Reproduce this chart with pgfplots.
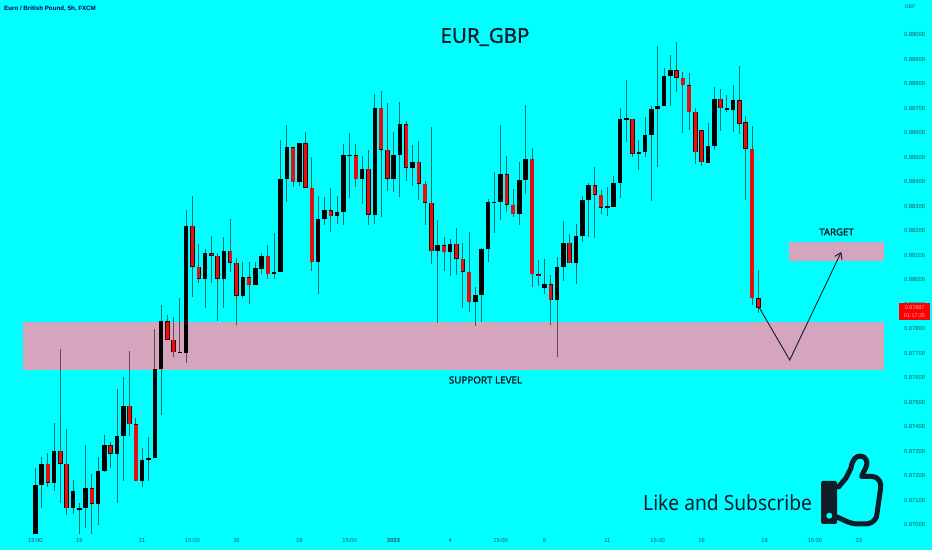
\documentclass[border=0pt]{standalone}
\usepackage{pgfplots}
\pgfplotsset{compat=1.18}
\usepackage{pgfplotstable}
\usepackage{fontspec}
\setmainfont{Liberation Sans}
\newfontfamily\titlef[FakeBold=1.0]{Noto Sans}
\newfontfamily\plainf[FakeStretch=0.915]{Noto Sans}
\newfontfamily\boldf[FakeBold=1.6]{Noto Sans}
\usetikzlibrary{arrows.meta}
\definecolor{bgc}{HTML}{00FFFF}
\definecolor{zone}{HTML}{D4A5BD}
\definecolor{redc}{HTML}{E4100F}
\definecolor{axt}{HTML}{1F5459}
\definecolor{ink}{HTML}{101C28}
\pgfplotstableread{
i top bot hi lo
0 0.87163 0.86963 0.87231 0.86963
1 0.87249 0.87163 0.87279 0.87068
3 0.87303 0.87173 0.87415 0.87140
6 0.87140 0.87068 0.87184 0.87043
7 0.87068 0.87060 0.87091 0.86962
8 0.87150 0.87068 0.87326 0.86986
10 0.87219 0.87086 0.87276 0.87000
11 0.87326 0.87219 0.87367 0.87218
13 0.87363 0.87290 0.87554 0.87088
14 0.87487 0.87363 0.87602 0.87181
17 0.87265 0.87178 0.87313 0.87154
18 0.87275 0.87265 0.87360 0.87181
19 0.87635 0.87275 0.87798 0.87275
20 0.87831 0.87635 0.87896 0.87449
23 0.87706 0.87700 0.87926 0.87700
24 0.88220 0.87700 0.88285 0.87660
27 0.88108 0.88005 0.88125 0.87884
30 0.88119 0.88005 0.88176 0.87884
33 0.88011 0.87936 0.88075 0.87925
35 0.88047 0.87978 0.88075 0.87978
36 0.88098 0.88046 0.88109 0.88024
38 0.88034 0.88024 0.88190 0.88005
39 0.88413 0.88033 0.88571 0.88033
40 0.88542 0.88412 0.88632 0.88319
42 0.88557 0.88398 0.88557 0.88383
45 0.88250 0.88072 0.88344 0.87941
46 0.88285 0.88250 0.88340 0.88222
48 0.88275 0.88260 0.88343 0.88228
49 0.88509 0.88275 0.88553 0.88222
50 0.88509 0.88506 0.88598 0.88333
52 0.88453 0.88411 0.88506 0.88310
54 0.88702 0.88265 0.88759 0.88228
57 0.88510 0.88413 0.88605 0.88358
58 0.88636 0.88510 0.88724 0.88340
60 0.88481 0.88458 0.88551 0.88385
64 0.88143 0.88117 0.88245 0.87823
66 0.88148 0.88113 0.88166 0.88014
70 0.87937 0.87909 0.87973 0.87812
71 0.88125 0.87937 0.88129 0.87827
72 0.88318 0.88125 0.88329 0.88071
73 0.88318 0.88315 0.88442 0.88190
74 0.88431 0.88318 0.88632 0.88245
77 0.88408 0.88267 0.88483 0.88224
78 0.88495 0.88408 0.88714 0.88351
81 0.87982 0.87965 0.88084 0.87943
83 0.88052 0.87916 0.88092 0.87687
84 0.88152 0.88052 0.88239 0.87996
86 0.88181 0.88067 0.88228 0.87984
87 0.88326 0.88181 0.88344 0.88156
88 0.88386 0.88326 0.88397 0.88174
91 0.88300 0.88295 0.88381 0.88261
92 0.88397 0.88298 0.88422 0.88298
93 0.88655 0.88397 0.88700 0.88336
94 0.88659 0.88654 0.88816 0.88564
96 0.88522 0.88514 0.88571 0.88448
97 0.88590 0.88520 0.88663 0.88503
98 0.88699 0.88590 0.88710 0.88322
99 0.88710 0.88699 0.88954 0.88459
100 0.88832 0.88710 0.88863 0.88710
101 0.88856 0.88833 0.88918 0.88710
107 0.88548 0.88478 0.88639 0.88478
108 0.88739 0.88548 0.88788 0.88530
110 0.88700 0.88693 0.88754 0.88684
111 0.88733 0.88693 0.88795 0.88602
}\blackc
\pgfplotstableread{
i top bot hi lo
2 0.87249 0.87173 0.87292 0.87154
4 0.87303 0.87249 0.87717 0.87088
5 0.87249 0.87068 0.87392 0.87041
9 0.87150 0.87086 0.87207 0.86962
12 0.87326 0.87290 0.87337 0.87231
15 0.87487 0.87411 0.87710 0.87363
16 0.87411 0.87178 0.87435 0.87178
21 0.87831 0.87755 0.87858 0.87755
22 0.87755 0.87704 0.87850 0.87684
25 0.88220 0.88054 0.88342 0.87932
26 0.88054 0.88005 0.88145 0.87989
28 0.88108 0.88099 0.88179 0.87986
29 0.88099 0.88005 0.88108 0.87834
31 0.88119 0.88070 0.88247 0.88034
32 0.88070 0.87936 0.88088 0.87815
34 0.88011 0.87978 0.88075 0.87902
37 0.88098 0.88024 0.88141 0.88005
41 0.88542 0.88398 0.88542 0.88381
43 0.88557 0.88376 0.88605 0.88376
44 0.88376 0.88072 0.88500 0.88038
47 0.88285 0.88260 0.88374 0.88197
51 0.88509 0.88411 0.88555 0.88381
53 0.88453 0.88265 0.88530 0.88222
55 0.88702 0.88532 0.88771 0.88256
56 0.88532 0.88413 0.88721 0.88364
59 0.88636 0.88458 0.88647 0.88404
61 0.88481 0.88393 0.88567 0.88324
62 0.88393 0.88315 0.88404 0.88222
63 0.88315 0.88117 0.88624 0.88065
65 0.88141 0.88113 0.88177 0.88038
67 0.88148 0.88086 0.88211 0.88020
68 0.88086 0.88034 0.88150 0.87884
69 0.88034 0.87909 0.88194 0.87867
75 0.88431 0.88306 0.88506 0.88279
76 0.88306 0.88267 0.88371 0.88256
79 0.88495 0.88024 0.88537 0.87970
80 0.88024 0.88014 0.88080 0.87977
82 0.87982 0.87916 0.88020 0.87816
85 0.88152 0.88067 0.88188 0.88067
89 0.88386 0.88347 0.88462 0.88170
90 0.88347 0.88294 0.88367 0.88269
95 0.88658 0.88514 0.88658 0.88503
102 0.88856 0.88825 0.88969 0.88765
103 0.88825 0.88794 0.88850 0.88598
104 0.88794 0.88685 0.88846 0.88612
105 0.88685 0.88520 0.88700 0.88473
106 0.88610 0.88480 0.88610 0.88466
109 0.88739 0.88700 0.88780 0.88608
112 0.88733 0.88638 0.88873 0.88595
113 0.88644 0.88535 0.88669 0.88326
114 0.88535 0.87926 0.88629 0.87898
115 0.87926 0.87887 0.88041 0.87864
}\redc
\pgfplotsset{
 wick/.style={no marks, draw=none, forget plot,
  error bars/.cd, y dir=both, y explicit, error mark=none,
  error bar style={line width=0.9pt, draw=black, opacity=0.55}},
 body/.style 2 args={no marks, draw=none, forget plot,
  error bars/.cd, y dir=plus, y explicit, error mark=none,
  error bar style={line width=#2, draw=#1, line cap=butt}},
}
\begin{document}
\begin{tikzpicture}
\begin{axis}[
 at={(0,0)}, anchor=south west,
 scale only axis, width=932pt, height=550pt,
 xmin=-5.615, xmax=142.63, ymin=0.86898, ymax=0.89142,
 axis background/.style={fill=bgc},
 axis line style={draw=none},
 tick style={draw=none},
 major tick length=0pt,
 clip=true,
 ytick={0.870,0.871,0.872,0.873,0.874,0.875,0.876,0.877,0.878,0.879,0.880,0.881,0.882,0.883,0.884,0.885,0.886,0.887,0.888,0.889,0.890},
 ytick pos=right, yticklabel pos=right,
 scaled y ticks=false,
 y tick label style={/pgf/number format/.cd, fixed, fixed zerofill, precision=5, assume math mode=true, /tikz/.cd, font=\fontsize{5.8}{6}\selectfont, text=axt, anchor=center, xshift=-17.5pt},
 xtick={0,7,17,25,32,42,50,57,66,74,81,91,99,106,116,124,131},
 xticklabels={15:00,19,21,15:00,26,28,15:00,\textbf{2023},4,15:00,9,11,15:00,16,18,15:00,23},
 x tick label style={font=\fontsize{5.8}{6}\selectfont, text=axt, anchor=base, yshift=7pt},
]
% zones
\addplot[fill=zone, draw=none, forget plot] coordinates {(-1.96,0.87632) (134.99,0.87632) (134.99,0.87828) (-1.96,0.87828)} -- cycle;
\addplot[fill=zone, draw=none, forget plot] coordinates {(119.87,0.88077) (134.99,0.88077) (134.99,0.88155) (119.87,0.88155)} -- cycle;
% wicks
\addplot[wick] table[x=i, y=top, y error plus expr=\thisrow{hi}-\thisrow{top}, y error minus expr=\thisrow{top}-\thisrow{lo}] {\blackc};
\addplot[wick] table[x=i, y=top, y error plus expr=\thisrow{hi}-\thisrow{top}, y error minus expr=\thisrow{top}-\thisrow{lo}] {\redc};
% bodies
\addplot[body={black}{4.5pt}] table[x=i, y=bot, y error plus expr=\thisrow{top}-\thisrow{bot}] {\blackc};
\addplot[body={black!75!red}{4.5pt}] table[x=i, y=bot, y error plus expr=\thisrow{top}-\thisrow{bot}] {\redc};
\addplot[body={redc}{3.3pt}] table[x=i, y expr=\thisrow{bot}+0.00002, y error plus expr=\thisrow{top}-\thisrow{bot}-0.00004] {\redc};
% projected path
\addplot[ink, line width=0.9pt, -{Straight Barb[length=6pt,width=8pt]}, forget plot] coordinates {(115.1,0.87889) (120.0,0.87673) (128.2,0.88114)};
\end{axis}
\begin{scope}[x=1pt,y=-1pt,shift={(0pt,550pt)}]
\node[text=ink] at (485,37) {\titlef\fontsize{20.5}{22}\selectfont EUR\_GBP};
\node[text=ink] at (836.5,232) {\boldf\fontsize{9.6}{10}\selectfont TARGET};
\node[text=ink] at (485.5,380) {\boldf\fontsize{9.8}{10}\selectfont SUPPORT LEVEL};
\node[text=ink, anchor=west, inner sep=0pt] at (643,503) {\plainf\fontsize{21}{23}\selectfont Like and Subscribe};
\node[text=black!70!blue, anchor=west, inner sep=0pt] at (4,9) {\fontsize{6.2}{7}\selectfont\bfseries Euro / British Pound, 5h, FXCM};
\node[text=axt] at (910,7) {\fontsize{5.2}{6}\selectfont GBP};
\fill[red] (899,303) rectangle (930,320);
\node[text=red!30!white, anchor=center, inner sep=0pt] at (914.5,307.8) {\fontsize{5.4}{6}\selectfont 0.87887};
\node[text=red!30!white, anchor=center, inner sep=0pt] at (914.5,315.8) {\fontsize{5.4}{6}\selectfont 01:17:35};
% thumb icon
\fill[ink, rounded corners=1.5pt] (821,481) rectangle (837,524);
\fill[bgc] (829.3,515.7) circle (3);
\draw[line width=5pt, ink, line join=round, line cap=round]
 (838.5,487) -- (846,478) -- (851,468) .. controls (852,460) and (856,456) .. (860,456)
 .. controls (866,456) and (868,462) .. (866.5,466) -- (861.5,476.5) -- (872,476.5)
 .. controls (879,477) and (882,483) .. (880.5,489) -- (876.5,517)
 .. controls (874,522) and (870,524) .. (865,524) -- (858,524)
 .. controls (850,524) and (844,520) .. (837,517);
\end{scope}
\end{tikzpicture}
\end{document}
